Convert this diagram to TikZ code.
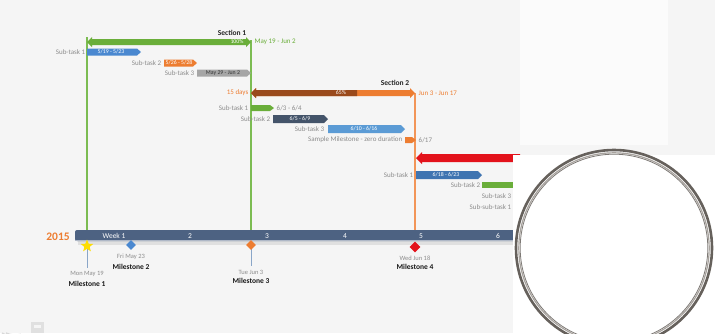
\documentclass[tikz,border=0pt]{standalone}
\usepackage{fontspec}
\setmainfont{Carlito}
\usetikzlibrary{shapes.geometric}
\definecolor{bgc}{HTML}{F5F5F5}
\definecolor{sgreen}{HTML}{6AAE3A}
\definecolor{lgreen}{HTML}{7CBC52}
\definecolor{sblue}{HTML}{4A88D0}
\definecolor{lblue}{HTML}{5B9BD5}
\definecolor{sorange}{HTML}{ED7D31}
\definecolor{lorange}{HTML}{F29558}
\definecolor{sgray}{HTML}{A6A6A6}
\definecolor{sbrown}{HTML}{9A4A1C}
\definecolor{snavy}{HTML}{44546A}
\definecolor{sred}{HTML}{E3121B}
\definecolor{tline}{HTML}{4D6282}
\definecolor{txtgray}{HTML}{8C8C8C}
\definecolor{msline}{HTML}{8AA6C8}
\definecolor{ringd}{HTML}{66615C}
\definecolor{ringl}{HTML}{A8A39E}
\newcommand\chevbar[5]{% x1 x2 y h color
  \fill[#5] (#1,#3-#4/2) -- (#2-4,#3-#4/2) -- (#2,#3) -- (#2-4,#3+#4/2) -- (#1,#3+#4/2) -- cycle;}
\tikzset{
  lbl/.style={font=\fontsize{7}{8}\selectfont, text=txtgray, inner sep=0.5pt},
  lblL/.style={lbl, anchor=east},
  lblR/.style={lbl, anchor=west},
  intxt/.style={font=\fontsize{5.8}{6}\selectfont, text=white, inner sep=0pt},
  sect/.style={font=\bfseries\fontsize{7.5}{8}\selectfont, text=black!85, inner sep=0pt},
  mdate/.style={font=\fontsize{6.5}{7}\selectfont, text=txtgray, inner sep=0pt},
  mname/.style={font=\bfseries\fontsize{7.5}{8}\selectfont, text=black!90, inner sep=0pt},
  wk/.style={font=\fontsize{7.5}{8}\selectfont, text=white, inner sep=0pt},
  guide/.style={line width=1.15pt},
}
\begin{document}
\begin{tikzpicture}[x=1pt,y=-1pt]
\useasboundingbox (0,0) rectangle (715,333);
\fill[bgc] (0,0) rectangle (715,333);
\fill[white!60!bgc] (520,0) rectangle (668,145);
% faint logo fragment bottom-left
\draw[black!15, line width=1.5pt] (2,333) arc[start angle=120, end angle=70, radius=30];
\draw[black!15, line width=1.5pt] (6,333) arc[start angle=115, end angle=75, radius=22];
\fill[black!12] (31,322) rectangle (44,333);
\fill[bgc] (34,325) rectangle (41,328);
% vertical guide lines
\draw[guide, lgreen] (87,37) -- (87,230);
\draw[guide, lgreen] (251,40) -- (251,230);
\draw[guide, lorange] (415,93) -- (415,230);
% Section 1
\node[sect] (s1) at (232,33) {Section 1};
\fill[sgreen] (87,42) -- (92,37) -- (92,39) -- (246,39) -- (246,37) -- (251,42) -- (246,47) -- (246,45) -- (92,45) -- (92,47) -- cycle;
\node[intxt] (p1) at (237,42) {100\%};
\node[lbl, text=sgreen, anchor=west] (d1) at (254,42) {May 19 - Jun 2};
\node[lblL] (t11) at (86,52) {Sub-task 1};
\chevbar{87}{141}{52}{7}{sblue}
\node[intxt] at (111,52) {5/19 - 5/23};
\node[lblL] (t12) at (162,63) {Sub-task 2};
\chevbar{164}{197}{63}{7}{sorange}
\node[intxt] at (179,63) {5/26 - 5/28};
\node[lblL] (t13) at (195,73) {Sub-task 3};
\chevbar{197}{251}{73}{7}{sgray}
\node[intxt, text=black!80] at (223,73) {May 29 - Jun 2};
% Section 2
\node[sect] (s2) at (395,83) {Section 2};
\fill[sorange] (251,93) -- (256,88) -- (256,90) -- (410,90) -- (410,88) -- (415,93) -- (410,98) -- (410,96) -- (256,96) -- (256,98) -- cycle;
\fill[sbrown] (251,93) -- (256,88) -- (256,90) -- (357,90) -- (357,96) -- (256,96) -- (256,98) -- cycle;
\node[intxt] (p2) at (341,93) {65\%};
\node[lbl, text=sorange, anchor=east] (dd2) at (249,93) {15 days};
\node[lbl, text=sorange, anchor=west] (d2) at (418,93) {Jun 3 - Jun 17};
\node[lblL] (t21) at (249,108) {Sub-task 1};
\chevbar{251}{274}{108}{6}{sgreen}
\node[lblR] at (276,108) {6/3 - 6/4};
\node[lblL] (t22) at (271,119) {Sub-task 2};
\chevbar{273}{328}{119}{8}{snavy}
\node[intxt] at (300,119) {6/5 - 6/9};
\node[lblL] (t23) at (325,129) {Sub-task 3};
\chevbar{328}{405}{129}{8}{lblue}
\node[intxt] at (364,129) {6/10 - 6/16};
\node[lblL] (t24) at (403,140) {Sample Milestone - zero duration};
\chevbar{405}{416}{140}{6}{sorange}
\node[lblR] at (418,140) {6/17};
% Section 3
\fill[sred] (416,158) -- (422,152) -- (422,154) -- (520,154) -- (520,162) -- (422,162) -- (422,164) -- cycle;
\node[lblL] (t31) at (414,175) {Sub-task 1};
\chevbar{416}{482}{175}{8}{sblue!85!black}
\node[intxt] at (446,175) {6/18 - 6/23};
\node[lblL] (t32) at (481,185) {Sub-task 2};
\fill[sgreen] (482,182) rectangle (520,188);
\node[lblL] (t33) at (512,196) {Sub-task 3};
\node[lblL] (t34) at (512,207) {Sub-sub-task 1};
% timeline
\fill[black!12] (78,241) rectangle (520,245);
\fill[tline, rounded corners=2pt] (75,230) rectangle (540,241);
\fill[white!55!tline] (75,240) rectangle (540,241);
\node[font=\bfseries\fontsize{11.5}{12}\selectfont, text=sorange, inner sep=0pt] (yr) at (58,237) {2015};
\node[wk] (w1) at (114,236) {Week 1};
\node[wk] (w2) at (190,236) {2};
\node[wk] (w3) at (267,236) {3};
\node[wk] (w4) at (345,236) {4};
\node[wk] (w5) at (421,236) {5};
\node[wk] (w6) at (498,236) {6};
% milestones
\draw[msline, line width=1pt] (87,245) -- (87,268);
\draw[msline, line width=1pt] (251,245) -- (251,266);
\node[star, star points=5, star point ratio=2.3, fill=yellow!80!orange, minimum size=13pt, inner sep=0pt] (m1) at (87,246) {};
\node[diamond, fill=sblue, minimum size=10pt, inner sep=0pt] (m2) at (131,245) {};
\node[diamond, fill=sorange, minimum size=10pt, inner sep=0pt] (m3) at (251,245) {};
\node[diamond, fill=sred, minimum size=11pt, inner sep=0pt] (m4) at (415,247) {};
\node[mdate] (md1) at (87,274) {Mon May 19};
\node[mname] (mn1) at (87,284) {Milestone 1};
\node[mdate] (md2) at (131,257) {Fri May 23};
\node[mname] (mn2) at (131,267) {Milestone 2};
\node[mdate] (md3) at (251,272) {Tue Jun 3};
\node[mname] (mn3) at (251,281) {Milestone 3};
\node[mdate] (md4) at (415,258) {Wed Jun 18};
\node[mname] (mn4) at (415,267) {Milestone 4};
% white overlay and ring
\fill[white] (513,155) rectangle (715,333);
\draw[ringd, line width=2.6pt] (614,248) circle[radius=98];
\draw[ringl, line width=1.2pt] (614,248) circle[radius=95.2];
\draw[ringd!85, line width=0.8pt] (614,248) circle[radius=93.8];
\end{tikzpicture}
\end{document}
